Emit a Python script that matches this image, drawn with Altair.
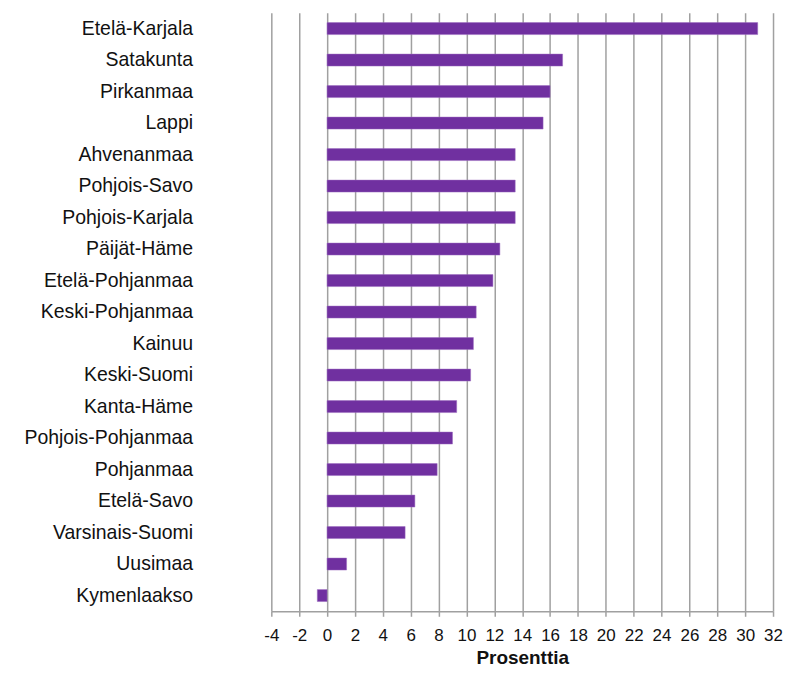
import altair as alt
import pandas as pd

regions = ["Etelä-Karjala", "Satakunta", "Pirkanmaa", "Lappi", "Ahvenanmaa",
           "Pohjois-Savo", "Pohjois-Karjala", "Päijät-Häme", "Etelä-Pohjanmaa",
           "Keski-Pohjanmaa", "Kainuu", "Keski-Suomi", "Kanta-Häme",
           "Pohjois-Pohjanmaa", "Pohjanmaa", "Etelä-Savo", "Varsinais-Suomi",
           "Uusimaa", "Kymenlaakso"]
values = [30.9, 16.9, 16.0, 15.5, 13.5, 13.5, 13.5, 12.4, 11.9,
          10.7, 10.5, 10.3, 9.3, 9.0, 7.9, 6.3, 5.6, 1.4, -0.7]
x_ticks = list(range(-4, 33, 2))

df = pd.DataFrame({"Maakunta": regions, "Prosenttia": values})

chart = alt.Chart(df).mark_bar(color="#7030A0", stroke="#9B6BC0", strokeWidth=0.5).encode(
    y=alt.Y("Maakunta:N", sort=regions,
            scale=alt.Scale(paddingInner=0.62, paddingOuter=0.31),
            axis=alt.Axis(title=None, ticks=False, domain=False, grid=False,
                          labelPadding=79, labelFontSize=19.5, labelFont="Liberation Sans",
                          labelColor="#111111")),
    x=alt.X("Prosenttia:Q",
            scale=alt.Scale(domain=[-4, 32], nice=False, zero=False),
            axis=alt.Axis(values=x_ticks, title="Prosenttia", titleFontSize=19,
                          titleFont="Liberation Sans", titleFontWeight="bold",
                          titleColor="#111111", titlePadding=5,
                          labelFontSize=17, labelFont="Liberation Sans",
                          labelColor="#111111", labelPadding=11,
                          labelFlush=False,
                          labelExpr="toString(datum.value)",
                          grid=True, gridColor="#a0a0a0", gridWidth=1.5,
                          domainColor="#a0a0a0", domainWidth=1.5,
                          tickColor="#a0a0a0", tickWidth=1.5, tickSize=5,
                          labelOverlap=False)),
).properties(
    width=503, height=600,
    autosize=alt.AutoSizeParams(type="none"),
    padding={"left": 264, "top": 4, "right": 12, "bottom": 59},
).configure_view(stroke=None)

chart.save("out.html", embed_options={"renderer": "svg", "actions": False})
